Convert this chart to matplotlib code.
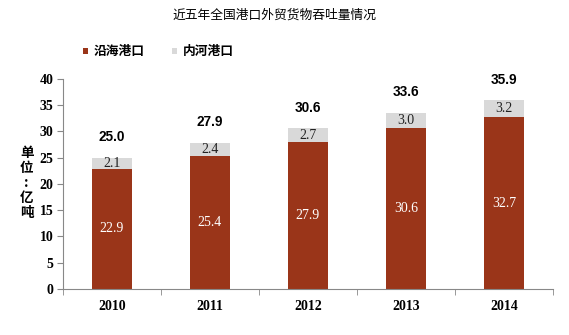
import matplotlib.pyplot as plt
import numpy as np

plt.rcParams['font.family'] = ['Noto Sans CJK SC', 'DejaVu Sans']

years = ['2010', '2011', '2012', '2013', '2014']
coastal = [22.9, 25.4, 27.9, 30.6, 32.7]
inland = [2.1, 2.4, 2.7, 3.0, 3.2]
totals = [25.0, 27.9, 30.6, 33.6, 35.9]

red = '#9A3519'
grey = '#D9D9D9'
serif = ['Liberation Serif', 'DejaVu Serif']
sans = ['Liberation Sans', 'DejaVu Sans']

fig = plt.figure(figsize=(5.69, 3.35), dpi=100)
ax = fig.add_axes([0.1107, 0.1373, 0.861, 0.627])

x = np.arange(len(years))
w = 0.41
ax.bar(x, coastal, w, color=red, label='沿海港口')
ax.bar(x, inland, w, bottom=coastal, color=grey, label='内河港口')

for i in range(len(years)):
    ax.text(x[i], coastal[i] / 2, f'{coastal[i]:.1f}', ha='center', va='center',
            color='white', fontsize=10, family=serif)
    ax.text(x[i], coastal[i] + inland[i] / 2, f'{inland[i]:.1f}', ha='center',
            va='center', color='#222222', fontsize=10, family=serif)
    ax.text(x[i], totals[i] + 3.9, f'{totals[i]:.1f}', ha='center', va='center',
            color='black', fontsize=9.8, fontweight='bold', family=sans)

ax.set_xlim(-0.5, 4.5)
ax.set_ylim(0, 40)
ax.set_yticks(range(0, 41, 5))
ax.set_xticks(x)
ax.set_xticklabels(years)
ax.set_xticks(np.arange(-0.5, 5, 1), minor=True)
ax.tick_params(axis='x', which='major', length=0, pad=8)
ax.tick_params(axis='x', which='minor', length=4, direction='out', color='#888888')
ax.tick_params(axis='y', length=4, direction='out', color='#888888', pad=3)
for lab in ax.get_xticklabels() + ax.get_yticklabels():
    lab.set_family(serif)
    lab.set_fontweight('bold')
    lab.set_fontsize(10)

for s in ['top', 'right']:
    ax.spines[s].set_visible(False)
for s in ['left', 'bottom']:
    ax.spines[s].set_color('#888888')

fig.text(0.047, 0.454, '单\n位\n:\n亿\n吨', ha='center', va='center',
         fontsize=9.8, fontweight='bold', linespacing=1.08)
fig.text(0.4815, 0.955, '近五年全国港口外贸货物吞吐量情况', ha='center', va='center',
         fontsize=9.2)

leg = fig.legend(loc='center left', bbox_to_anchor=(0.1459, 0.845), ncol=2,
                 frameon=False, borderpad=0, borderaxespad=0,
                 handlelength=0.4, handleheight=0.4,
                 handletextpad=0.45, columnspacing=2.1,
                 prop={'size': 9.2, 'weight': 'bold'})

fig.savefig('out.png', dpi=100)
